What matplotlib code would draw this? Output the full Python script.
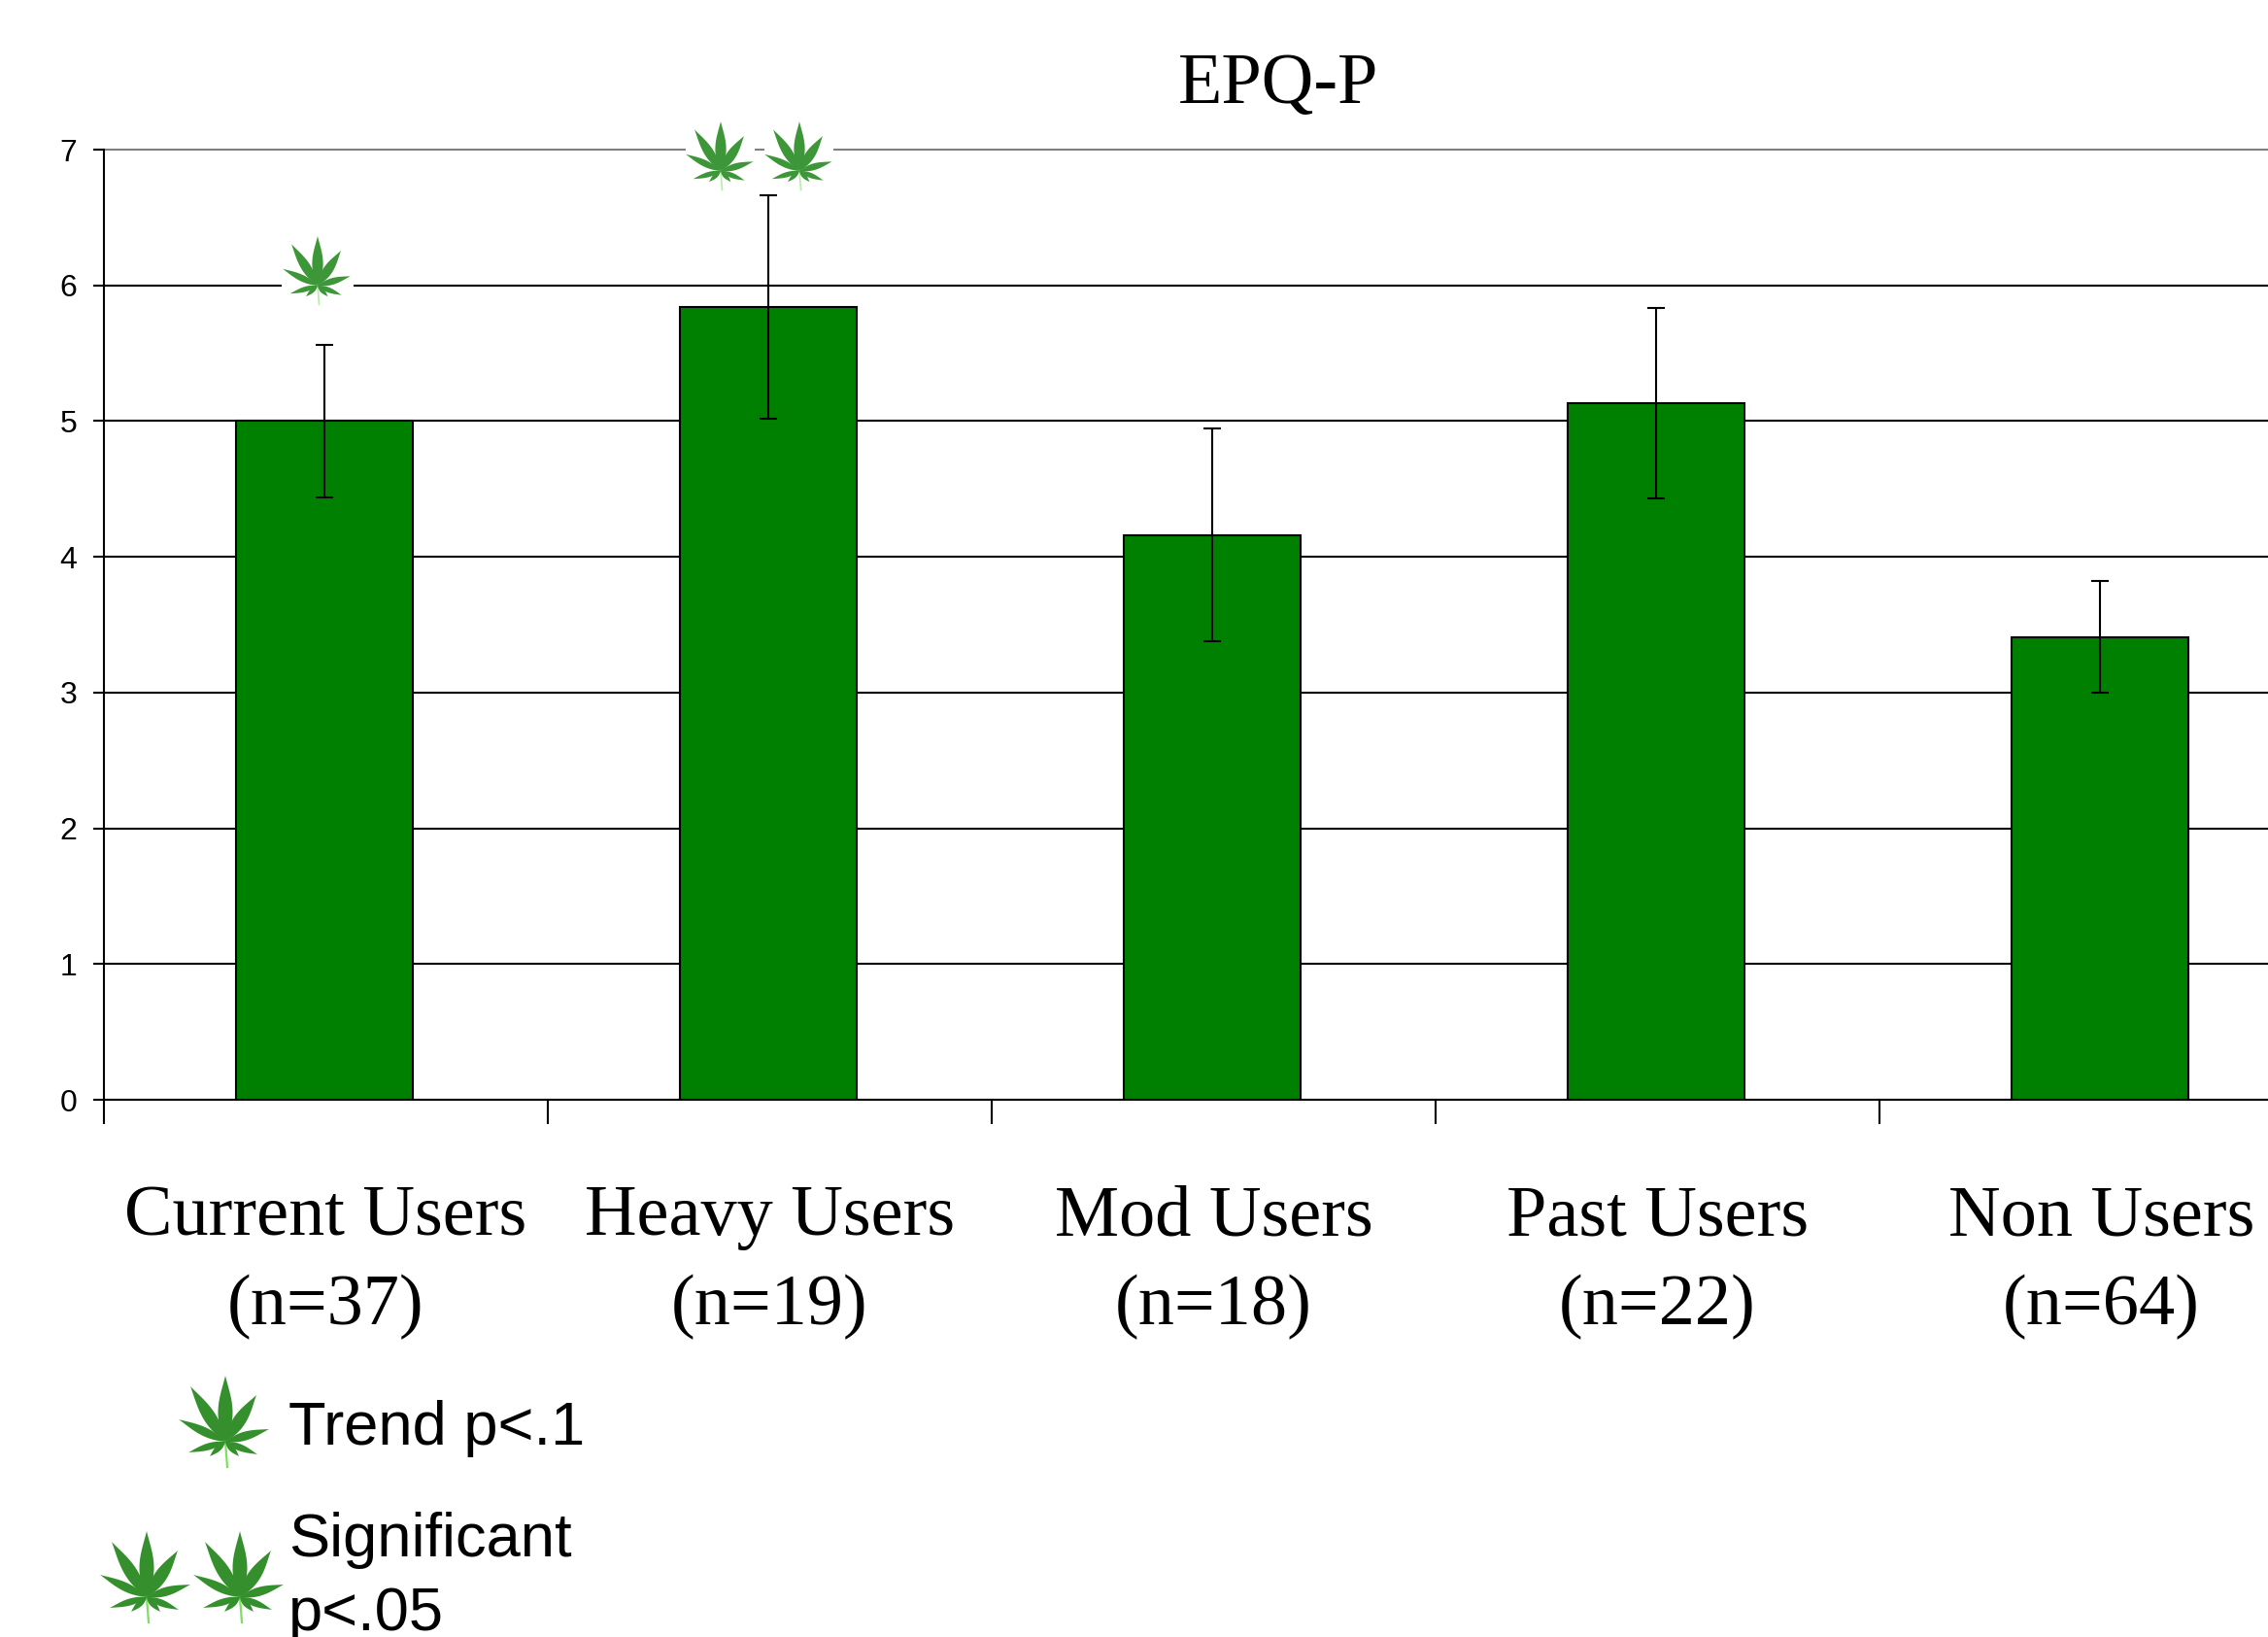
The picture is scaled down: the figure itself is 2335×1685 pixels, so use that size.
import numpy as np
import matplotlib
matplotlib.use('Agg')
import matplotlib.pyplot as plt
import matplotlib.patches as patches
from matplotlib.transforms import Affine2D

categories = ['Current Users\n(n=37)', 'Heavy Users\n(n=19)', 'Mod Users\n(n=18)',
              'Past Users\n(n=22)', 'Non Users\n(n=64)']
means = [5.0, 5.84, 4.16, 5.13, 3.41]
errors = [0.56, 0.825, 0.785, 0.70, 0.41]
y_ticks = [0, 1, 2, 3, 4, 5, 6, 7]

W = 2335
H = 1685

fig = plt.figure(figsize=(W / 100, H / 100), dpi=100)

# the axis runs on past the right edge of the picture
ax = fig.add_axes([107 / W, 1 - 1132 / H, 5 * 457 / W, (1132 - 154) / H])

x = np.arange(len(means)) + 0.4965
ax.bar(x, means, width=0.4, color='#008000', edgecolor='black', linewidth=1.5, zorder=3)
ax.errorbar(x, means, yerr=errors, fmt='none', ecolor='black', elinewidth=1.5,
            capsize=6.6, capthick=1.5, zorder=4)

ax.set_xlim(0, 5)
ax.set_ylim(0, 7)
ax.set_yticks(y_ticks)
ax.set_xticks(np.arange(6))
ax.set_xticklabels([])
ax.set_xticks(np.arange(len(means)) + 0.5, minor=True)
ax.set_xticklabels(categories, minor=True, family='Liberation Serif', fontsize=53.5, linespacing=1.47)
ax.tick_params(axis='x', which='minor', length=0, pad=63)
ax.tick_params(axis='x', which='major', length=18, width=1.5)
ax.tick_params(axis='y', length=8, width=1.5, pad=12)
for lab in ax.get_yticklabels():
    lab.set_family('Liberation Sans')
    lab.set_fontsize(23)

ax.grid(axis='y', color='black', linewidth=1.5, zorder=1)
ax.set_axisbelow(True)
ax.get_ygridlines()[-1].set_color('#808080')
ax.get_ygridlines()[-1].set_clip_on(False)
for s in ['top', 'right']:
    ax.spines[s].set_visible(False)
ax.spines['left'].set_linewidth(1.5)
ax.spines['bottom'].set_linewidth(1.5)
ax.spines['left'].set_zorder(5)
ax.spines['bottom'].set_zorder(5)

# pixels from the top left corner of the picture
px = Affine2D().scale(1, -1).translate(0, H)


def leaflet(cx, cy, dx, dy, half, s):
    t = np.linspace(0, 1, 25)
    w = half * np.sin(np.pi * t ** 0.85) ** 1.1
    nx, ny = -dy, dx
    n = np.hypot(dx, dy)
    top = np.column_stack([dx * t + nx / n * w, dy * t + ny / n * w])
    bot = np.column_stack([dx * t - nx / n * w, dy * t - ny / n * w])[::-1]
    return np.vstack([top, bot]) * s + [cx, cy]


def leaf(cx, cy, s=1.0, color='#348f2c', stem='#7fe060', box=None):
    if box is not None:
        fig.add_artist(patches.Rectangle((box[0], box[1]), box[2], box[3], transform=px,
                                         facecolor='white', edgecolor='none', zorder=6))
    fig.add_artist(plt.Line2D([cx, cx + 2 * s], [cy, cy + 26 * s], transform=px,
                              color=stem, linewidth=1.6 * s, zorder=7))
    shape = [(0, -68, 7.5), (-36, -57, 6.5), (32, -48, 6.5), (-48, -23, 4.5), (45, -13, 4.5),
             (-38, 11, 3.5), (33, 13, 3.5), (-16, 15, 3), (14, 15, 3)]
    for dx, dy, half in shape:
        fig.add_artist(patches.Polygon(leaflet(cx, cy, dx, dy, half, s), closed=True, transform=px,
                                       facecolor=color, edgecolor='none', zorder=8))


# leaves over the bars, with the white box that breaks the grid line
small = dict(s=0.75, color='#3d9638', stem='#b5eea5')
leaf(327, 294, box=(290, 245, 74, 78), **small)
leaf(742, 176, box=(706, 120, 71, 77), **small)
leaf(823, 176, box=(787, 120, 71, 77), **small)

# key
leaf(232, 1484)
leaf(151, 1644)
leaf(247, 1644)

fig.text(1316 / W, 1 - 106 / H, 'EPQ-P', family='Liberation Serif', fontsize=53.5,
         ha='center', va='baseline')
fig.text(297 / W, 1 - 1487 / H, 'Trend p<.1', family='Liberation Sans', fontsize=45.5,
         ha='left', va='baseline')
fig.text(297 / W, 1 - 1602 / H, 'Significant', family='Liberation Sans', fontsize=45.5,
         ha='left', va='baseline')
fig.text(297 / W, 1 - 1678 / H, 'p<.05', family='Liberation Sans', fontsize=45.5,
         ha='left', va='baseline')

fig.savefig('out.png', dpi=100)
